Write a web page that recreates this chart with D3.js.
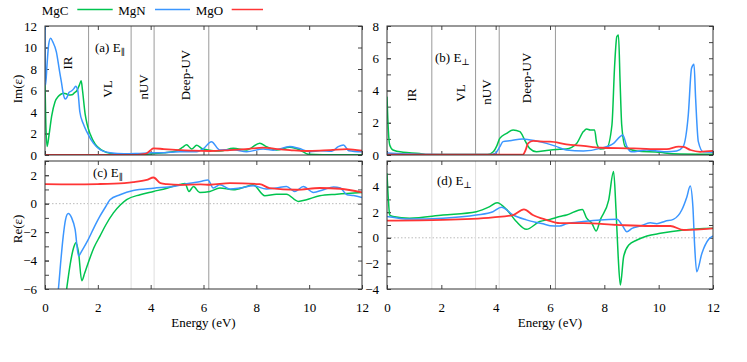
<!DOCTYPE html>
<html><head><meta charset="utf-8">
<script src="https://cdn.jsdelivr.net/npm/d3@7"></script>
<style>
html,body{margin:0;padding:0;background:#fff;}
svg{display:block;}
svg text{font-family:"Liberation Serif","DejaVu Serif",serif;}
</style></head>
<body><svg id="chart" width="747" height="362"></svg>
<script>
// ---------------- DATA ----------------
const seriesNames = ["MgC", "MgN", "MgO"];
const seriesColors = ["#00c44f", "#3b96ff", "#ff3535"];
const xTicks = [0, 2, 4, 6, 8, 10, 12];
const regionBounds = [1.65, 3.26, 4.13, 6.2];
const regionNames = ["IR", "VL", "nUV", "Deep-UV"];

// (a) Im(eps), E parallel
const imParMgC = [[0,6.7],[0.03,3],[0.08,0.8],[0.15,1.8],[0.25,3.6],[0.38,4.96],[0.5,5.45],[0.6,5.65],[0.7,5.75],[0.8,5.7],[0.9,5.58],[1.02,5.6],[1.12,5.8],[1.21,6.0],[1.3,6.5],[1.37,6.9],[1.42,6.0],[1.52,3.8],[1.6,2.8],[1.71,1.95],[1.9,1.0],[2.15,0.46],[2.5,0.15],[3,0.06],[3.5,0.05],[4,0.1],[4.5,0.2],[5.0,0.4],[5.2,0.7],[5.36,0.95],[5.55,0.56],[5.74,0.9],[5.93,0.62],[6.24,0.45],[6.62,0.37],[7.13,0.62],[7.63,0.47],[8.13,1.09],[8.38,0.78],[8.76,0.47],[9.27,0.71],[9.65,0.47],[9.97,0.06],[10.5,0.03],[12,0.03]];
const imParMgN = [[0,13],[0.02,6.5],[0.08,8.5],[0.14,10.3],[0.21,10.85],[0.3,10.5],[0.43,9.6],[0.55,7.8],[0.62,6.8],[0.7,5.6],[0.77,5.2],[0.84,5.4],[0.9,5.8],[1.0,5.95],[1.1,6.2],[1.16,6.4],[1.24,6.0],[1.32,4.0],[1.45,2.9],[1.58,2.17],[1.83,1.1],[2.08,0.5],[2.46,0.2],[3,0.12],[3.5,0.15],[4,0.2],[4.5,0.22],[5.1,0.3],[5.5,0.3],[5.74,0.31],[6.0,0.6],[6.3,1.24],[6.62,0.47],[7.13,0.5],[7.63,0.3],[8.26,0.56],[8.64,0.45],[9.27,0.78],[9.6,0.62],[10.04,0.31],[10.42,0.4],[10.86,0.35],[11.1,0.78],[11.3,0.93],[11.5,0.4],[12,0.3]];
const imParMgO = [[0,0],[3.5,0.02],[3.8,0.1],[4.0,0.45],[4.1,0.62],[4.5,0.55],[5.1,0.46],[5.6,0.4],[6.24,0.37],[7.0,0.46],[7.6,0.55],[8.26,0.68],[8.8,0.55],[9.27,0.46],[9.9,0.37],[10.4,0.4],[10.8,0.45],[11.43,0.55],[12,0.4]];

// (b) Im(eps), E perpendicular
const imPerpMgC = [[0,3.62],[0.05,1.5],[0.1,0.62],[0.22,0.31],[0.59,0.17],[1.2,0.1],[1.5,0.03],[3.7,0.03],[3.91,0.2],[4.05,0.6],[4.15,1.03],[4.4,1.34],[4.64,1.55],[4.89,1.45],[5.07,0.93],[5.25,0.41],[5.5,0.2],[5.87,0.28],[6.36,0.35],[6.6,0.37],[6.98,0.72],[7.23,1.45],[7.35,1.61],[7.48,1.55],[7.64,1.55],[7.72,0.72],[7.85,0.37],[8.09,0.45],[8.28,1.86],[8.38,5.58],[8.46,7.34],[8.52,7.44],[8.58,4.55],[8.64,1.86],[8.77,0.52],[9.2,0.25],[10.06,0.17],[10.5,0.08],[12,0.05]];
const imPerpMgN = [[0,0.12],[0.5,0.08],[2,0.03],[3.8,0.03],[3.98,0.1],[4.15,0.5],[4.27,0.83],[4.52,0.89],[5.0,1.0],[5.5,0.87],[5.87,0.72],[6.2,0.55],[6.6,0.31],[7.23,0.25],[7.85,0.41],[8.34,0.72],[8.58,1.14],[8.68,1.24],[8.83,0.52],[9.0,0.2],[9.56,0.31],[9.93,0.25],[10.3,0.2],[10.66,0.25],[10.9,0.52],[11.09,2.48],[11.21,5.38],[11.3,5.63],[11.36,3.52],[11.46,0.83],[11.64,0.2],[12,0.17]];
const imPerpMgO = [[0,0.02],[5.0,0.02],[5.1,0.3],[5.19,0.72],[5.38,0.87],[5.87,0.83],[6.0,0.83],[6.6,0.66],[7.23,0.56],[7.85,0.45],[9.08,0.41],[9.7,0.37],[10.3,0.37],[10.73,0.52],[10.92,0.5],[11.17,0.31],[11.53,0.2],[12,0.25]];

// (c) Re(eps), E parallel
const reParMgC = [[0.75,-7],[0.82,-6],[0.95,-4.3],[1.01,-3.68],[1.1,-3.0],[1.17,-2.75],[1.27,-3.44],[1.39,-5.42],[1.5,-4.9],[1.64,-4.14],[1.85,-3.1],[2.08,-2.28],[2.3,-1.5],[2.59,-0.65],[2.85,-0.1],[3.09,0.28],[3.6,0.63],[4.11,0.86],[4.62,1.09],[5.1,1.35],[5.3,1.42],[5.45,0.86],[5.62,1.2],[5.86,0.78],[6.24,0.86],[6.62,1.1],[7.13,0.98],[7.63,1.21],[7.88,1.33],[8.32,0.56],[8.76,0.67],[9.14,0.67],[9.59,0.16],[9.9,0.28],[10.4,0.56],[11.05,0.67],[12,0.79]];
const reParMgN = [[0.45,-7],[0.51,-5.95],[0.6,-4],[0.69,-2.28],[0.78,-1.1],[0.88,-0.7],[1.01,-1.0],[1.14,-1.81],[1.27,-3.68],[1.39,-3.33],[1.64,-2.51],[1.85,-1.7],[2.08,-0.88],[2.3,-0.2],[2.46,0.28],[2.84,0.63],[3.34,0.93],[4.11,1.09],[4.86,1.21],[5.48,1.44],[5.89,1.56],[6.17,1.67],[6.37,1.1],[6.62,1.33],[7.0,1.03],[7.38,1.1],[7.88,1.26],[8.38,1.03],[8.76,1.1],[9.14,1.21],[9.46,0.86],[9.78,1.2],[10.16,0.79],[10.54,0.98],[10.92,1.17],[11.18,1.1],[11.43,0.63],[11.68,0.58],[12,0.44]];
const reParMgO = [[0,1.37],[1,1.36],[2,1.38],[3.0,1.45],[3.34,1.51],[3.85,1.67],[4.11,1.84],[4.37,1.44],[4.62,1.37],[5.13,1.32],[5.89,1.36],[6.24,1.33],[7.0,1.44],[8.13,1.37],[8.5,1.1],[9.52,0.98],[10.4,1.1],[11.18,1.05],[12,0.79]];

// (d) Re(eps), E perpendicular
const rePerpMgC = [[0,5.04],[0.05,3],[0.1,1.78],[0.22,1.66],[0.83,1.53],[2.06,1.78],[3.29,2.04],[3.78,2.43],[4.05,2.74],[4.4,2.22],[4.76,1.27],[5.13,0.66],[5.62,1.27],[6.0,1.44],[6.36,1.66],[6.61,1.78],[7.19,2.22],[7.35,1.53],[7.54,1.14],[7.7,0.53],[7.85,1.4],[8.16,2.95],[8.34,5.17],[8.43,2.17],[8.51,-1.48],[8.59,-3.69],[8.71,-1.48],[8.9,-0.56],[9.2,-0.17],[9.57,0.14],[10.06,0.35],[10.92,0.61],[12,0.74]];
const rePerpMgN = [[0,1.66],[0.83,1.46],[2.06,1.53],[3.29,1.78],[3.9,2.04],[4.21,2.38],[4.64,1.78],[5.13,1.4],[5.74,1.09],[6.0,0.95],[6.36,0.93],[6.61,1.09],[7.23,1.27],[7.85,1.4],[8.46,1.44],[8.65,1.01],[8.83,0.48],[9.02,0.74],[9.33,0.92],[9.69,1.17],[9.93,1.1],[10.24,1.3],[10.54,1.44],[10.85,2.17],[11.04,3.21],[11.16,4.05],[11.26,2.43],[11.32,-0.43],[11.4,-2.65],[11.59,-1.22],[11.84,-0.12],[12,0.14]];
const rePerpMgO = [[0,1.34],[2.06,1.4],[3.9,1.6],[4.64,1.78],[5.04,2.22],[5.37,1.78],[5.87,1.4],[6.36,1.14],[7.23,1.14],[8.46,1.01],[9.69,0.92],[10.43,0.92],[10.92,0.61],[12,0.74]];

// ---------------- DRAW ----------------
const svg = d3.select("#chart");
const FONT = 13;
const FF = "Liberation Serif, DejaVu Serif, serif";

const panels = [
  {id:"a", x0:45, x1:362, y0:26, y1:155, yd:[0,12], yLab:[0,2,4,6,8,10,12], yMinor:2, series:[imParMgC, imParMgN, imParMgO], xLabels:false, label:"(a) E", sub:"\u2225", lx:95, ly:51.5, zero:false, lightLines:false,
   regions:[[0.87,8.56],[2.35,6.14],[3.71,6.33],[5.3,7.44]]},
  {id:"b", x0:387, x1:713, y0:26, y1:155, yd:[0,8], yLab:[0,2,4,6,8], yMinor:1, series:[imPerpMgC, imPerpMgN, imPerpMgO], xLabels:false, label:"(b) E", sub:"\u22A5", lx:435, ly:61.5, zero:false, lightLines:false,
   regions:[[0.91,3.72],[2.69,3.84],[3.67,3.9],[5.14,4.78]]},
  {id:"c", x0:45, x1:362, y0:161, y1:289, yd:[-6,3], yLab:[-6,-4,-2,0,2], yMinor:1, series:[reParMgC, reParMgN, reParMgO], xLabels:true, label:"(c) E", sub:"\u2225", lx:93, ly:177, zero:true, lightLines:true, regions:[]},
  {id:"d", x0:387, x1:713, y0:161, y1:289, yd:[-4,6], yLab:[-4,-2,0,2,4], yMinor:1, series:[rePerpMgC, rePerpMgN, rePerpMgO], xLabels:true, label:"(d) E", sub:"\u22A5", lx:437, ly:185, zero:true, lightLines:true, regions:[]}
];

panels.forEach(p => {
  const x = d3.scaleLinear().domain([0,12]).range([p.x0, p.x1]);
  const y = d3.scaleLinear().domain(p.yd).range([p.y1, p.y0]);
  const g = svg.append("g");

  g.append("clipPath").attr("id","clip-"+p.id).append("rect")
    .attr("x",p.x0).attr("y",p.y0).attr("width",p.x1-p.x0).attr("height",p.y1-p.y0);

  if (p.zero) {
    g.append("line").attr("x1",p.x0).attr("x2",p.x1).attr("y1",y(0)).attr("y2",y(0))
      .attr("stroke","#bbb").attr("stroke-width",1).attr("stroke-dasharray","1.5,2");
  }
  regionBounds.forEach((b,i) => {
    const light = p.lightLines && i < 3;
    g.append("line").attr("x1",x(b)).attr("x2",x(b)).attr("y1",p.y0).attr("y2",p.y1)
      .attr("stroke", light ? "#dedede" : "#9a9a9a").attr("stroke-width",1);
  });
  p.regions.forEach((r,i) => {
    g.append("text").attr("transform",`translate(${x(r[0])},${y(r[1])}) rotate(-90)`)
      .attr("text-anchor","middle").attr("dominant-baseline","central")
      .attr("font-family",FF).attr("font-size",FONT).attr("fill","#000").text(regionNames[i]);
  });

  const yMin = d3.range(p.yd[0], p.yd[1]+0.001, p.yMinor);
  const axL = d3.axisLeft(y).tickValues(p.yLab).tickSize(-4).tickPadding(8).tickFormat(d3.format("d"));
  g.append("g").attr("transform",`translate(${p.x0},0)`).call(axL);
  const axR = d3.axisRight(y).tickValues(yMin).tickSize(-4).tickFormat("");
  g.append("g").attr("transform",`translate(${p.x1},0)`).call(axR);
  const axLm = d3.axisLeft(y).tickValues(yMin).tickSize(-4).tickFormat("");
  g.append("g").attr("transform",`translate(${p.x0},0)`).call(axLm);
  const axB = d3.axisBottom(x).tickValues(xTicks).tickSize(-4).tickPadding(14).tickFormat(p.xLabels ? d3.format("d") : "");
  g.append("g").attr("transform",`translate(0,${p.y1})`).call(axB);
  const axT = d3.axisTop(x).tickValues(xTicks).tickSize(-4).tickFormat("");
  g.append("g").attr("transform",`translate(0,${p.y0})`).call(axT);
  g.selectAll(".domain").remove();
  g.selectAll("g").attr("font-family",FF).attr("font-size",FONT);
  g.selectAll(".tick line").attr("stroke","#444");
  g.selectAll(".tick text").attr("font-size",FONT).attr("font-family",FF).attr("fill","#000");

  const line = d3.line().x(d=>x(d[0])).y(d=>y(d[1])).curve(d3.curveMonotoneX);
  const cg = g.append("g").attr("clip-path",`url(#clip-${p.id})`);
  [0,1,2].forEach(k => {
    cg.append("path").datum(p.series[k]).attr("d",line).attr("fill","none")
      .attr("stroke",seriesColors[k]).attr("stroke-width",k===2?1.8:1.5)
      .attr("stroke-linejoin","round");
  });

  g.append("rect").attr("x",p.x0).attr("y",p.y0).attr("width",p.x1-p.x0).attr("height",p.y1-p.y0)
    .attr("fill","none").attr("stroke","#333").attr("stroke-width",1);

  const t = g.append("text").attr("x",p.lx).attr("y",p.ly).attr("font-family",FF).attr("font-size",FONT).attr("fill","#000");
  t.append("tspan").text(p.label);
  t.append("tspan").attr("font-size",9).attr("dy",3).text(p.sub);
});

function addText(x, y, txt, rot) {
  const el = svg.append("text").attr("font-family",FF).attr("font-size",FONT).attr("fill","#000").attr("text-anchor","middle");
  if (rot) el.attr("transform",`translate(${x},${y}) rotate(-90)`).attr("dominant-baseline","central");
  else el.attr("x",x).attr("y",y);
  el.text(txt);
}
addText(17, 89, "Im(\u03B5)", true);
addText(17, 229, "Re(\u03B5)", true);
addText(203.5, 327, "Energy (eV)", false);
addText(550, 327, "Energy (eV)", false);

const legX = [41.7, 118.3, 195.7];
const legLine = [[77.3,112.7],[155,190],[231.7,263]];
seriesNames.forEach((n,i) => {
  svg.append("text").attr("x",legX[i]).attr("y",14.5).attr("font-family",FF).attr("font-size",FONT).text(n);
  svg.append("line").attr("x1",legLine[i][0]).attr("x2",legLine[i][1]).attr("y1",9.5).attr("y2",9.5)
    .attr("stroke",seriesColors[i]).attr("stroke-width",1.5);
});
</script></body></html>
